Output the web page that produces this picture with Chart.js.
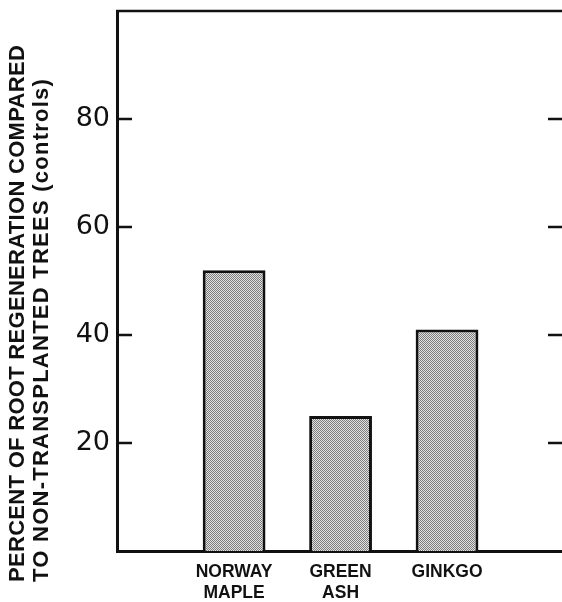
<!DOCTYPE html>
<html>
<head>
<meta charset="utf-8">
<script src="https://cdn.jsdelivr.net/npm/chart.js@4.4.1/dist/chart.umd.min.js"></script>
<style>
  html, body { margin: 0; background: #fff; }
  #wrap { width: 562px; height: 602px; }
</style>
</head>
<body>
<div id="wrap"><canvas id="chart"></canvas></div>
<script>
// ── data ──
const categories = [["NORWAY", "MAPLE"], ["GREEN", "ASH"], ["GINKGO"]];
const regeneration = [52, 25, 41];
const yTicks = [20, 40, 60, 80];
const yTitle = [
  "PERCENT OF ROOT REGENERATION COMPARED",
  "TO NON-TRANSPLANTED TREES (controls)",
];

const INK = "#111";
const canvas = document.getElementById("chart");
const ctx = canvas.getContext("2d");

// stippled grey fill like the printed screen tone
function stipple() {
  const c = document.createElement("canvas");
  c.width = c.height = 2;
  const g = c.getContext("2d");
  g.fillStyle = "#e2e2e2";
  g.fillRect(0, 0, 2, 2);
  g.fillStyle = "#7c7c7c";
  g.fillRect(0, 0, 1, 1);
  g.fillRect(1, 1, 1, 1);
  return ctx.createPattern(c, "repeat");
}

// inward tick marks on both sides, top rule, and the two-line axis title
const frame = {
  id: "frame",
  afterDraw(chart) {
    const { chartArea: a, scales: { y } } = chart;
    const c = chart.ctx;
    c.save();
    c.strokeStyle = INK;
    c.lineWidth = 2.5;
    c.beginPath();
    c.moveTo(a.left - 1, a.top);
    c.lineTo(a.right, a.top);
    for (const t of y.ticks) {
      const py = y.getPixelForValue(t.value);
      c.moveTo(a.left, py);
      c.lineTo(a.left + 15, py);
      c.moveTo(a.right, py);
      c.lineTo(a.right - 14, py);
    }
    c.stroke();

    c.fillStyle = INK;
    c.font = 'bold 22px "Liberation Sans", Arial, sans-serif';
    c.textBaseline = "middle";
    c.textAlign = "left";
    const spacing = ["0.3px", "1.25px"];
    [18, 42].forEach((x, i) => {
      c.save();
      c.letterSpacing = spacing[i];
      c.translate(x, 582);
      c.rotate(-Math.PI / 2);
      c.fillText(yTitle[i], 0, 0);
      c.restore();
    });
    c.restore();
  },
};

new Chart(canvas, {
  type: "bar",
  data: {
    datasets: [{
      data: regeneration.map((v, i) => ({ x: i + 1, y: v })),
      backgroundColor: stipple(),
      borderColor: INK,
      borderWidth: 3,
      borderSkipped: "bottom",
      categoryPercentage: 1,
      barPercentage: 0.59,
    }],
  },
  options: {
    responsive: true,
    maintainAspectRatio: false,
    animation: false,
    devicePixelRatio: 1,
    layout: { padding: { top: 11, right: 0, bottom: 0, left: 0 } },
    plugins: { legend: { display: false }, tooltip: { enabled: false } },
    scales: {
      x: {
        type: "linear",
        offset: false,
        min: -0.1,
        max: 4.08,
        afterBuildTicks: (s) => { s.ticks = categories.map((_, i) => ({ value: i + 1 })); },
        afterFit: (s) => { s.height = 51; s.paddingLeft = 0; s.paddingRight = 0; },
        grid: { display: false, drawTicks: false },
        border: { display: true, color: INK, width: 3 },
        ticks: {
          autoSkip: false,
          maxRotation: 0,
          padding: 11,
          color: INK,
          font: { family: '"Liberation Sans", Arial, sans-serif', weight: "bold", size: 17.5, lineHeight: 1.2 },
          callback: (v, i) => categories[i],
        },
      },
      y: {
        min: 0,
        max: 100,
        afterBuildTicks: (s) => { s.ticks = yTicks.map((v) => ({ value: v })); },
        afterFit: (s) => { s.width = 117; s.paddingTop = 0; s.paddingBottom = 0; },
        grid: { display: false, drawTicks: false },
        border: { display: true, color: INK, width: 3 },
        ticks: {
          padding: 7,
          color: INK,
          font: { family: '"DejaVu Sans", sans-serif', size: 27 },
        },
      },
    },
  },
  plugins: [frame],
});
</script>
</body>
</html>
